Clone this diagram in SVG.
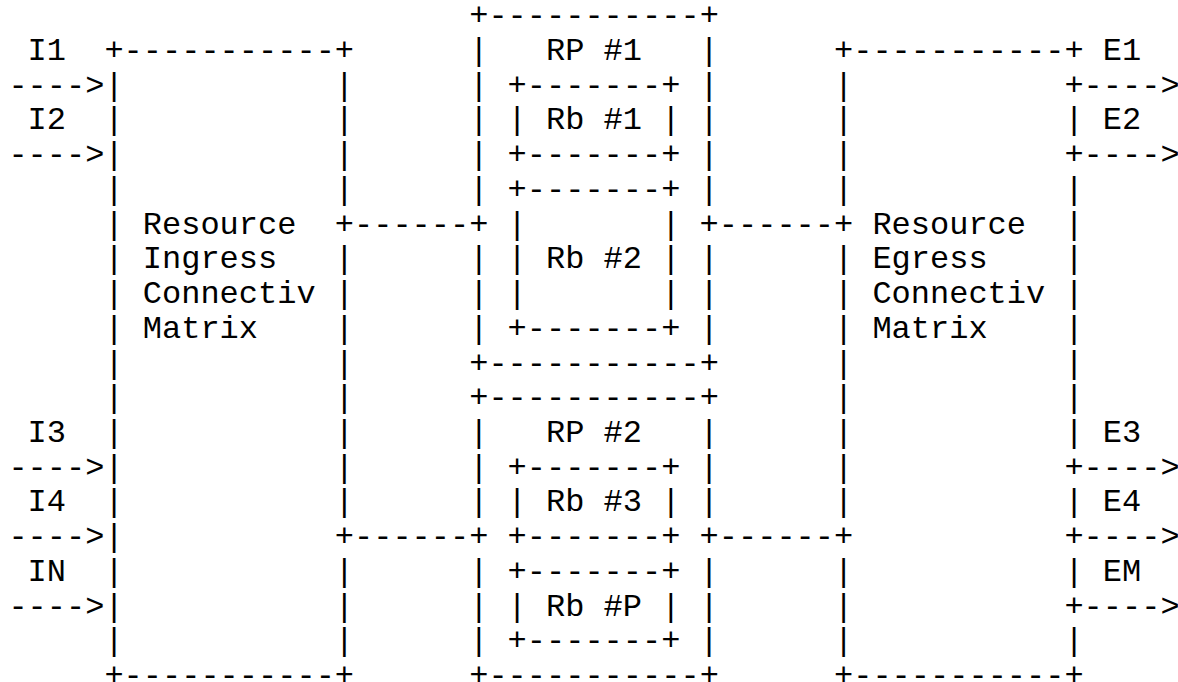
<svg xmlns="http://www.w3.org/2000/svg" width="1178" height="682" viewBox="0 0 1178 682">
<style>
.m{font-family:"Liberation Mono","Courier New",monospace;font-size:32px;fill:#000;white-space:pre}
</style>
<rect x="0" y="0" width="1178" height="682" fill="#fff"/>
<g id="ingress-matrix">
<text class="m" x="104.4" y="60">+-----------+</text>
<text class="m"><tspan x="104.4" y="94.7">|</tspan><tspan x="104.4" y="129.4">|</tspan><tspan x="104.4" y="164.2">|</tspan><tspan x="104.4" y="198.9">|</tspan><tspan x="104.4" y="233.6">|</tspan><tspan x="104.4" y="268.3">|</tspan><tspan x="104.4" y="303">|</tspan><tspan x="104.4" y="337.8">|</tspan><tspan x="104.4" y="372.5">|</tspan><tspan x="104.4" y="407.2">|</tspan><tspan x="104.4" y="441.9">|</tspan><tspan x="104.4" y="476.6">|</tspan><tspan x="104.4" y="511.4">|</tspan><tspan x="104.4" y="546.1">|</tspan><tspan x="104.4" y="580.8">|</tspan><tspan x="104.4" y="615.5">|</tspan><tspan x="104.4" y="650.2">|</tspan></text>
<text class="m"><tspan x="334.8" y="94.7">|</tspan><tspan x="334.8" y="129.4">|</tspan><tspan x="334.8" y="164.2">|</tspan><tspan x="334.8" y="198.9">|</tspan><tspan x="334.8" y="233.6">+</tspan><tspan x="334.8" y="268.3">|</tspan><tspan x="334.8" y="303">|</tspan><tspan x="334.8" y="337.8">|</tspan><tspan x="334.8" y="372.5">|</tspan><tspan x="334.8" y="407.2">|</tspan><tspan x="334.8" y="441.9">|</tspan><tspan x="334.8" y="476.6">|</tspan><tspan x="334.8" y="511.4">|</tspan><tspan x="334.8" y="546.1">+</tspan><tspan x="334.8" y="580.8">|</tspan><tspan x="334.8" y="615.5">|</tspan><tspan x="334.8" y="650.2">|</tspan></text>
<text class="m" x="104.4" y="685">+-----------+</text>
<text class="m" x="142.8" y="233.6">Resource</text>
<text class="m" x="142.8" y="268.3">Ingress</text>
<text class="m" x="142.8" y="303">Connectiv</text>
<text class="m" x="142.8" y="337.8">Matrix</text>
</g>
<g id="rp1">
<text class="m" x="469.2" y="25.3">+-----------+</text>
<text class="m"><tspan x="469.2" y="60">|</tspan><tspan x="469.2" y="94.7">|</tspan><tspan x="469.2" y="129.4">|</tspan><tspan x="469.2" y="164.2">|</tspan><tspan x="469.2" y="198.9">|</tspan><tspan x="469.2" y="233.6">+</tspan><tspan x="469.2" y="268.3">|</tspan><tspan x="469.2" y="303">|</tspan><tspan x="469.2" y="337.8">|</tspan></text>
<text class="m"><tspan x="699.6" y="60">|</tspan><tspan x="699.6" y="94.7">|</tspan><tspan x="699.6" y="129.4">|</tspan><tspan x="699.6" y="164.2">|</tspan><tspan x="699.6" y="198.9">|</tspan><tspan x="699.6" y="233.6">+</tspan><tspan x="699.6" y="268.3">|</tspan><tspan x="699.6" y="303">|</tspan><tspan x="699.6" y="337.8">|</tspan></text>
<text class="m" x="469.2" y="372.5">+-----------+</text>
<text class="m" x="546" y="60">RP #1</text>
</g>
<g id="rb1">
<text class="m" x="507.6" y="94.7">+-------+</text>
<text class="m" x="507.6" y="129.4">|</text>
<text class="m" x="661.2" y="129.4">|</text>
<text class="m" x="507.6" y="164.2">+-------+</text>
<text class="m" x="546" y="129.4">Rb #1</text>
</g>
<g id="rb2">
<text class="m" x="507.6" y="198.9">+-------+</text>
<text class="m"><tspan x="507.6" y="233.6">|</tspan><tspan x="507.6" y="268.3">|</tspan><tspan x="507.6" y="303">|</tspan></text>
<text class="m"><tspan x="661.2" y="233.6">|</tspan><tspan x="661.2" y="268.3">|</tspan><tspan x="661.2" y="303">|</tspan></text>
<text class="m" x="507.6" y="337.8">+-------+</text>
<text class="m" x="546" y="268.3">Rb #2</text>
</g>
<g id="rp2">
<text class="m" x="469.2" y="407.2">+-----------+</text>
<text class="m"><tspan x="469.2" y="441.9">|</tspan><tspan x="469.2" y="476.6">|</tspan><tspan x="469.2" y="511.4">|</tspan><tspan x="469.2" y="546.1">+</tspan><tspan x="469.2" y="580.8">|</tspan><tspan x="469.2" y="615.5">|</tspan><tspan x="469.2" y="650.2">|</tspan></text>
<text class="m"><tspan x="699.6" y="441.9">|</tspan><tspan x="699.6" y="476.6">|</tspan><tspan x="699.6" y="511.4">|</tspan><tspan x="699.6" y="546.1">+</tspan><tspan x="699.6" y="580.8">|</tspan><tspan x="699.6" y="615.5">|</tspan><tspan x="699.6" y="650.2">|</tspan></text>
<text class="m" x="469.2" y="685">+-----------+</text>
<text class="m" x="546" y="441.9">RP #2</text>
</g>
<g id="rb3">
<text class="m" x="507.6" y="476.6">+-------+</text>
<text class="m" x="507.6" y="511.4">|</text>
<text class="m" x="661.2" y="511.4">|</text>
<text class="m" x="507.6" y="546.1">+-------+</text>
<text class="m" x="546" y="511.4">Rb #3</text>
</g>
<g id="rbP">
<text class="m" x="507.6" y="580.8">+-------+</text>
<text class="m" x="507.6" y="615.5">|</text>
<text class="m" x="661.2" y="615.5">|</text>
<text class="m" x="507.6" y="650.2">+-------+</text>
<text class="m" x="546" y="615.5">Rb #P</text>
</g>
<g id="egress-matrix">
<text class="m" x="834" y="60">+-----------+</text>
<text class="m"><tspan x="834" y="94.7">|</tspan><tspan x="834" y="129.4">|</tspan><tspan x="834" y="164.2">|</tspan><tspan x="834" y="198.9">|</tspan><tspan x="834" y="233.6">+</tspan><tspan x="834" y="268.3">|</tspan><tspan x="834" y="303">|</tspan><tspan x="834" y="337.8">|</tspan><tspan x="834" y="372.5">|</tspan><tspan x="834" y="407.2">|</tspan><tspan x="834" y="441.9">|</tspan><tspan x="834" y="476.6">|</tspan><tspan x="834" y="511.4">|</tspan><tspan x="834" y="546.1">+</tspan><tspan x="834" y="580.8">|</tspan><tspan x="834" y="615.5">|</tspan><tspan x="834" y="650.2">|</tspan></text>
<text class="m"><tspan x="1064.4" y="94.7">+</tspan><tspan x="1064.4" y="129.4">|</tspan><tspan x="1064.4" y="164.2">+</tspan><tspan x="1064.4" y="198.9">|</tspan><tspan x="1064.4" y="233.6">|</tspan><tspan x="1064.4" y="268.3">|</tspan><tspan x="1064.4" y="303">|</tspan><tspan x="1064.4" y="337.8">|</tspan><tspan x="1064.4" y="372.5">|</tspan><tspan x="1064.4" y="407.2">|</tspan><tspan x="1064.4" y="441.9">|</tspan><tspan x="1064.4" y="476.6">+</tspan><tspan x="1064.4" y="511.4">|</tspan><tspan x="1064.4" y="546.1">+</tspan><tspan x="1064.4" y="580.8">|</tspan><tspan x="1064.4" y="615.5">+</tspan><tspan x="1064.4" y="650.2">|</tspan></text>
<text class="m" x="834" y="685">+-----------+</text>
<text class="m" x="872.4" y="233.6">Resource</text>
<text class="m" x="872.4" y="268.3">Egress</text>
<text class="m" x="872.4" y="303">Connectiv</text>
<text class="m" x="872.4" y="337.8">Matrix</text>
</g>
<g id="connectors">
<text class="m" x="8.4" y="94.7">----&gt;</text>
<text class="m" x="8.4" y="164.2">----&gt;</text>
<text class="m" x="8.4" y="476.6">----&gt;</text>
<text class="m" x="8.4" y="546.1">----&gt;</text>
<text class="m" x="8.4" y="615.5">----&gt;</text>
<text class="m" x="354" y="233.6">------</text>
<text class="m" x="354" y="546.1">------</text>
<text class="m" x="718.8" y="233.6">------</text>
<text class="m" x="718.8" y="546.1">------</text>
<text class="m" x="1083.6" y="94.7">----&gt;</text>
<text class="m" x="1083.6" y="164.2">----&gt;</text>
<text class="m" x="1083.6" y="476.6">----&gt;</text>
<text class="m" x="1083.6" y="546.1">----&gt;</text>
<text class="m" x="1083.6" y="615.5">----&gt;</text>
<g id="port-labels">
<text class="m" x="27.6" y="60">I1</text>
<text class="m" x="27.6" y="129.4">I2</text>
<text class="m" x="27.6" y="441.9">I3</text>
<text class="m" x="27.6" y="511.4">I4</text>
<text class="m" x="27.6" y="580.8">IN</text>
<text class="m" x="1102.8" y="60">E1</text>
<text class="m" x="1102.8" y="129.4">E2</text>
<text class="m" x="1102.8" y="441.9">E3</text>
<text class="m" x="1102.8" y="511.4">E4</text>
<text class="m" x="1102.8" y="580.8">EM</text>
</g>
</g>
</svg>
